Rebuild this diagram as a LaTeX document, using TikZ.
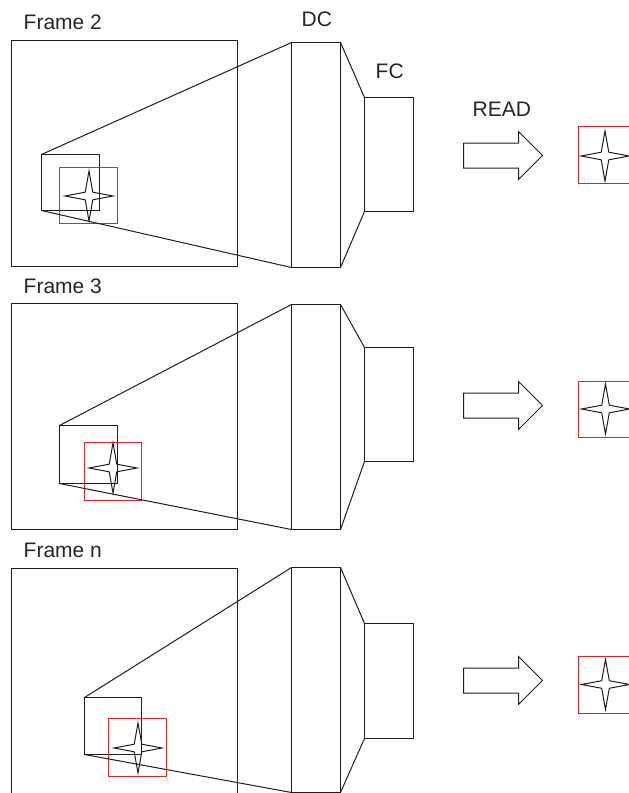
\documentclass[tikz,border=0pt]{standalone}
\usepackage{fontspec}
\setmainfont{Liberation Sans}
\usetikzlibrary{shapes.arrows}
\definecolor{linegray}{RGB}{30,30,30}
\definecolor{boxred}{RGB}{215,40,40}
\tikzset{
  box/.style={draw=linegray, line width=1pt, inner sep=0pt, outer sep=0pt, anchor=north west},
  redbox/.style={draw=boxred, line width=1pt, inner sep=0pt, outer sep=0pt, anchor=north west},
  conn/.style={draw=linegray, line width=1pt},
  lbl/.style={font=\fontsize{21}{24}\selectfont, inner sep=0pt, anchor=base west, text=black!85},
  blockarrow/.style={single arrow, draw=linegray, line width=1pt, inner xsep=0pt, inner ysep=12pt, outer sep=0pt,
    minimum width=47pt, minimum height=79pt, single arrow head extend=11.5pt, anchor=tip},
  starline/.style={draw=linegray, line width=1pt, line join=miter},
  fourstar/.pic={\path[starline] (0,-25) -- (3.8,-3.8) -- (24,0) -- (3.8,3.8) -- (0,25)
      -- (-3.8,3.8) -- (-24,0) -- (-3.8,-3.8) -- cycle;}
}
\begin{document}
\begin{tikzpicture}[x=1pt,y=-1pt]
\useasboundingbox (0,0) rectangle (629,793);
\begin{scope}[shift={(0.5,0.5)}]
% ---------- Row 1 ----------
\node[lbl] (t1) at (23,29) {Frame 2};
\node[lbl] (tdc) at (301,26) {DC};
\node[lbl] (tfc) at (375,78) {FC};
\node[lbl] (tread) at (472,116) {READ};
\node[box, minimum width=226pt, minimum height=226pt] (f1) at (11,40) {};
\node[box, minimum width=49pt, minimum height=225pt] (dc1) at (291,42) {};
\node[box, minimum width=49pt, minimum height=114pt] (fc1) at (364,97) {};
\node[box, minimum width=58pt, minimum height=56pt] (s1) at (41,154) {};
\node[redbox, minimum width=58pt, minimum height=56pt] (r1) at (59,167) {};
\draw[conn] (s1.north west) -- (dc1.north west);
\draw[conn] (s1.south west) -- (dc1.south west);
\draw[conn] (dc1.north east) -- (fc1.north west);
\draw[conn] (dc1.south east) -- (fc1.south west);
\coordinate (c1) at (88.5,195.5);
\pic at (c1) {fourstar};
\node[blockarrow] (a1) at (542,155) {};
\node[redbox, minimum width=53pt, minimum height=57pt] (o1) at (578,126) {};
\coordinate (oc1) at (604.5,155.5);
\pic at (oc1) {fourstar};
% ---------- Row 2 ----------
\node[lbl] (t2) at (23,293) {Frame 3};
\node[box, minimum width=226pt, minimum height=226pt] (f2) at (11,303) {};
\node[box, minimum width=49pt, minimum height=225pt] (dc2) at (291,304) {};
\node[box, minimum width=49pt, minimum height=114pt] (fc2) at (364,347) {};
\node[box, minimum width=58pt, minimum height=58pt] (s2) at (59,425) {};
\node[redbox, minimum width=57pt, minimum height=58pt] (r2) at (84,442) {};
\draw[conn] (s2.north west) -- (dc2.north west);
\draw[conn] (s2.south west) -- (dc2.south west);
\draw[conn] (dc2.north east) -- (fc2.north west);
\draw[conn] (dc2.south east) -- (fc2.south west);
\coordinate (c2) at (112.5,467.5);
\pic at (c2) {fourstar};
\node[blockarrow] (a2) at (542,405) {};
\node[redbox, minimum width=53pt, minimum height=56pt] (o2) at (578,381) {};
\coordinate (oc2) at (605,408.5);
\pic at (oc2) {fourstar};
% ---------- Row 3 ----------
\node[lbl] (t3) at (23,557) {Frame n};
\node[box, minimum width=226pt, minimum height=226pt] (f3) at (11,568) {};
\node[box, minimum width=49pt, minimum height=225pt] (dc3) at (291,567) {};
\node[box, minimum width=49pt, minimum height=115pt] (fc3) at (364,623) {};
\node[box, minimum width=57pt, minimum height=57pt] (s3) at (84,697) {};
\node[redbox, minimum width=58pt, minimum height=58pt] (r3) at (108,718) {};
\draw[conn] (s3.north west) -- (dc3.north west);
\draw[conn] (s3.south west) -- (dc3.south west);
\draw[conn] (dc3.north east) -- (fc3.north west);
\draw[conn] (dc3.south east) -- (fc3.south west);
\coordinate (c3) at (137.5,747.5);
\pic at (c3) {fourstar};
\node[blockarrow] (a3) at (542,680) {};
\node[redbox, minimum width=53pt, minimum height=57pt] (o3) at (578,656) {};
\coordinate (oc3) at (605,684);
\pic at (oc3) {fourstar};
\end{scope}
\end{tikzpicture}
\end{document}
